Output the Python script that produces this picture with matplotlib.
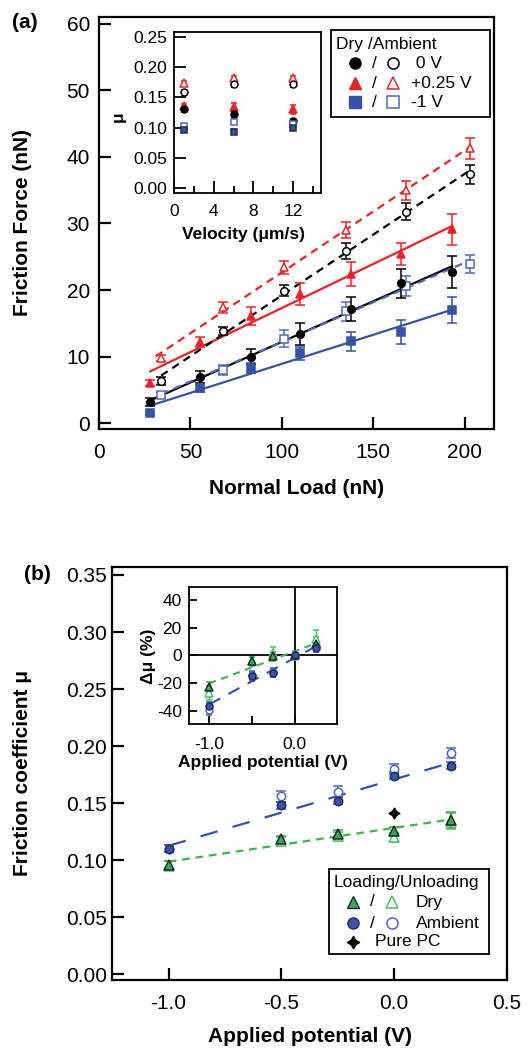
import numpy as np
import matplotlib
matplotlib.use('Agg')
import matplotlib.pyplot as plt
from matplotlib.lines import Line2D
from matplotlib.patches import Rectangle

plt.rcParams['font.family'] = ['Liberation Sans', 'DejaVu Sans']
plt.rcParams['axes.unicode_minus'] = False

# ---------------- Panel (a) data ----------------
load_dry = [28, 55, 83, 110, 138, 165, 193]
load_amb = [34, 68, 101, 135, 168, 203]
ff_dry_0V = [3.1, 6.9, 10.0, 13.4, 17.1, 21.0, 22.7]
ff_dry_0V_err = [0.6, 0.85, 1.2, 1.6, 1.8, 2.2, 2.4]
ff_dry_p025 = [6.0, 12.2, 16.1, 19.4, 22.4, 25.4, 29.1]
ff_dry_p025_err = [0.5, 0.7, 1.3, 1.7, 1.8, 1.7, 2.4]
ff_dry_m1 = [1.5, 5.3, 8.3, 10.5, 12.3, 13.7, 17.0]
ff_dry_m1_err = [0.3, 0.6, 0.75, 1.0, 1.4, 1.75, 2.0]
ff_amb_0V = [6.3, 13.8, 19.9, 25.9, 31.8, 37.4]
ff_amb_0V_err = [0.6, 0.6, 0.8, 1.2, 1.3, 1.4]
ff_amb_p025 = [9.8, 17.4, 23.4, 29.0, 35.0, 41.3]
ff_amb_p025_err = [0.5, 0.8, 1.0, 1.2, 1.4, 1.6]
ff_amb_m1 = [4.2, 8.0, 12.7, 16.8, 20.6, 23.9]
ff_amb_m1_err = [0.5, 0.75, 1.3, 1.4, 1.45, 1.4]

# inset (a): friction coefficient vs velocity
velocity = [1, 6, 12]
mu_amb_p025 = [0.174, 0.182, 0.182]
mu_amb_0V = [0.159, 0.172, 0.172]
mu_dry_p025 = [0.135, 0.134, 0.130]
mu_dry_p025_err = [0.004, 0.006, 0.007]
mu_dry_0V = [0.130, 0.122, 0.111]
mu_amb_m1 = [0.102, 0.110, 0.106]
mu_dry_m1 = [0.096, 0.093, 0.100]
mu_small_err = [0.004, 0.004, 0.004]

# ---------------- Panel (b) data ----------------
potential = [-1.0, -0.5, -0.25, 0.0, 0.25]
mu_dry_load = [0.0956, 0.1184, 0.1228, 0.1254, 0.135]
mu_dry_load_err = [0.004, 0.003, 0.004, 0.004, 0.007]
mu_dry_unload = [0.095, 0.117, 0.121, 0.120, 0.134]
mu_dry_unload_err = [0.004, 0.003, 0.004, 0.004, 0.007]
mu_amb_load = [0.110, 0.148, 0.152, 0.174, 0.183]
mu_amb_load_err = [0.003, 0.003, 0.003, 0.003, 0.003]
mu_amb_unload = [0.110, 0.156, 0.160, 0.180, 0.194]
mu_amb_unload_err = [0.003, 0.005, 0.005, 0.004, 0.004]
pure_pc_potential = [0.0]
pure_pc_mu = [0.141]

# inset (b): relative change of mu
dmu_dry_load = [-23, -4.3, -0.7, 0, 8.2]
dmu_dry_load_err = [4, 3, 3, 2, 5]
dmu_dry_unload = [-27, -4, 2, 0, 12]
dmu_dry_unload_err = [5, 3, 4, 3, 6]
dmu_amb_load = [-36.7, -15.1, -12.7, 0, 5.3]
dmu_amb_load_err = [3, 3, 3, 2, 3]
dmu_amb_unload = [-39, -14, -12, 0, 7]
dmu_amb_unload_err = [4, 3, 3, 2, 3]

# ---------------- colours ----------------
RED = '#ec2227'
BLUE_F = '#3652a3'
BLUE_O = '#5068b8'
GREEN_F = '#3aa85a'
GREEN_O = '#4cc063'
BLUE_C = '#3a55a6'
BLUE_L = '#3350b0'
GREEN_L = '#3cb54a'

W, H = 528, 1050
fig = plt.figure(figsize=(W / 100, H / 100), dpi=100)


def box(l, t, r, b):
    return [l / W, 1 - b / H, (r - l) / W, (b - t) / H]


def fx(px):
    return px / W


def fy(py):
    return 1 - py / H


def eb(ax, x, y, e, marker, color, filled=True, ms=5.5, mec=None, cap=3.5, z=3, lw=1.1):
    face = color if filled else 'white'
    ax.errorbar(x, y, yerr=e, fmt=marker, ms=ms, mfc=face, mec=mec if mec else color,
                mew=1.1, ecolor=color, elinewidth=lw, capsize=cap, capthick=lw, zorder=z)


def fitline(ax, x, y, color, ls, lw=1.6, dashes=None, z=2, x0=None, x1=None):
    p = np.polyfit(x, y, 1)
    xs = np.array([min(x) if x0 is None else x0, max(x) if x1 is None else x1])
    line, = ax.plot(xs, np.polyval(p, xs), color=color, ls=ls, lw=lw, zorder=z)
    if dashes is not None:
        line.set_dashes(dashes)


def style(ax, lw, length, size, padx, pady):
    for s in ax.spines.values():
        s.set_linewidth(lw)
    ax.tick_params(direction='in', length=length, width=lw, labelsize=size)
    ax.tick_params(axis='x', pad=padx)
    ax.tick_params(axis='y', pad=pady)


# ================= Panel (a) main =================
axa = fig.add_axes(box(99, 17, 494, 429))
fitline(axa, load_dry, ff_dry_p025, RED, '-')
fitline(axa, load_dry, ff_dry_0V, 'k', '-')
fitline(axa, load_dry, ff_dry_m1, BLUE_F, '-')
fitline(axa, load_amb, ff_amb_p025, RED, '--', dashes=(3.5, 2.5), x0=31)
fitline(axa, load_amb, ff_amb_0V, 'k', '--', dashes=(3.5, 2.5))
fitline(axa, load_amb, ff_amb_m1, BLUE_O, '--', dashes=(3.5, 2.5))

eb(axa, load_amb, ff_amb_p025, ff_amb_p025_err, '^', RED, filled=False, ms=6)
eb(axa, load_amb, ff_amb_0V, ff_amb_0V_err, 'o', 'k', filled=False)
eb(axa, load_amb, ff_amb_m1, ff_amb_m1_err, 's', BLUE_O, filled=False)
eb(axa, load_dry, ff_dry_p025, ff_dry_p025_err, '^', RED, ms=6)
eb(axa, load_dry, ff_dry_0V, ff_dry_0V_err, 'o', 'k')
eb(axa, load_dry, ff_dry_m1, ff_dry_m1_err, 's', BLUE_F)

axa.set_xlim(0, 216)
axa.set_ylim(-0.9, 61.05)
axa.set_xticks([0, 50, 100, 150, 200])
axa.set_yticks([0, 10, 20, 30, 40, 50, 60])
style(axa, 1.6, 8.5, 15, 10, 6.5)

fig.text(fx(297), fy(489), 'Normal Load (nN)', fontsize=15, fontweight='bold', ha='center', va='center')
fig.text(fx(23), fy(223), 'Friction Force (nN)', fontsize=15, fontweight='bold', ha='center',
         va='center', rotation=90)
fig.text(fx(25), fy(22), '(a)', fontsize=15, fontweight='bold', ha='center', va='center')

# ================= Inset (a) =================
axi = fig.add_axes(box(174, 32, 321, 193))
eb(axi, velocity, mu_amb_p025, mu_small_err, '^', RED, filled=False, ms=5.5, cap=2.5, lw=1.0)
eb(axi, velocity, mu_amb_0V, mu_small_err, 'o', 'k', filled=False, ms=5, cap=2.5, lw=1.0)
eb(axi, velocity, mu_dry_p025, mu_dry_p025_err, '^', RED, ms=5.5, cap=2.5, lw=1.0)
eb(axi, velocity, mu_dry_0V, mu_small_err, 'o', 'k', ms=5, cap=2.5, lw=1.0)
eb(axi, velocity, mu_amb_m1, mu_small_err, 's', BLUE_O, filled=False, ms=5, cap=2.5, lw=1.0)
eb(axi, velocity, mu_dry_m1, mu_small_err, 's', BLUE_F, ms=5, cap=2.5, lw=1.0, mec='#222a55')
axi.set_xlim(0, 14.8)
axi.set_ylim(-0.009, 0.259)
axi.set_xticks([0, 4, 8, 12])
axi.set_xticks([2, 6, 10, 14], minor=True)
axi.set_yticks([0, 0.05, 0.10, 0.15, 0.20, 0.25])
axi.set_yticklabels(['0.00', '0.05', '0.10', '0.15', '0.20', '0.25'])
style(axi, 1.3, 8.5, 12.5, 8, 5)
axi.tick_params(which='minor', direction='in', length=5, width=1.3)
fig.text(fx(243), fy(235), 'Velocity (μm/s)', fontsize=12.5, fontweight='bold', ha='center', va='center')
fig.text(fx(118), fy(117), 'μ', fontsize=12.5, fontweight='bold', ha='center', va='center', rotation=90)

# legend (a)
fig.add_artist(Rectangle((fx(331), fy(117)), (490 - 331) / W, (117 - 30) / H,
                         transform=fig.transFigure, facecolor='white', edgecolor='k', lw=1.3, zorder=5))
fig.text(fx(336), fy(44), 'Dry /Ambient', fontsize=12.5, ha='left', va='center', zorder=6)
leg_rows_a = [('o', 'k', 'k', ' 0 V', 63), ('^', RED, RED, '+0.25 V', 83), ('s', BLUE_F, BLUE_O, '-1 V', 102)]
for mk, cf, co, lab, py in leg_rows_a:
    fig.add_artist(Line2D([fx(355)], [fy(py)], marker=mk, ms=8, mfc=cf, mec=cf, ls='none',
                          transform=fig.transFigure, zorder=6))
    fig.text(fx(374), fy(py), '/', fontsize=12.5, ha='center', va='center', zorder=6)
    fig.add_artist(Line2D([fx(393)], [fy(py)], marker=mk, ms=8, mfc='white', mec=co, mew=1.1, ls='none',
                          transform=fig.transFigure, zorder=6))
    fig.text(fx(411), fy(py), lab, fontsize=12.5, ha='left', va='center', zorder=6)

# ================= Panel (b) main =================
axb = fig.add_axes(box(112, 567, 507, 980))
fitline(axb, potential, mu_amb_load, BLUE_L, '--', dashes=(8, 7))
fitline(axb, potential, mu_dry_load, GREEN_L, '--', dashes=(3.5, 2.6))
eb(axb, potential, mu_dry_unload, mu_dry_unload_err, '^', GREEN_O, filled=False, ms=6.5)
eb(axb, potential, mu_amb_unload, mu_amb_unload_err, 'o', BLUE_O, filled=False, ms=6)
eb(axb, potential, mu_dry_load, mu_dry_load_err, '^', GREEN_F, ms=6.5, mec='#1e2a1e')
eb(axb, potential, mu_amb_load, mu_amb_load_err, 'o', BLUE_C, ms=6, mec='#1c2a66')
axb.plot(pure_pc_potential, pure_pc_mu, ls='none', marker=(4, 1, 0), ms=8, color='k', zorder=4)
axb.set_xlim(-1.251, 0.5)
axb.set_ylim(-0.005, 0.357)
axb.set_xticks([-1.0, -0.5, 0.0, 0.5])
axb.set_xticklabels(['-1.0', '-0.5', '0.0', '0.5'])
axb.set_yticks([0, 0.05, 0.10, 0.15, 0.20, 0.25, 0.30, 0.35])
axb.set_yticklabels(['0.00', '0.05', '0.10', '0.15', '0.20', '0.25', '0.30', '0.35'])
style(axb, 1.6, 8.5, 15, 10, 3.6)
fig.text(fx(310), fy(1037), 'Applied potential (V)', fontsize=15, fontweight='bold', ha='center', va='center')
fig.text(fx(23), fy(773), 'Friction coefficient μ', fontsize=15, fontweight='bold', ha='center',
         va='center', rotation=90)
fig.text(fx(37), fy(575), '(b)', fontsize=15, fontweight='bold', ha='center', va='center')

# ================= Inset (b) =================
axj = fig.add_axes(box(188.7, 587.3, 337.3, 724.3))
axj.axhline(0, color='k', lw=1.3, zorder=1)
axj.axvline(0, color='k', lw=1.3, zorder=1)
fitline(axj, potential, dmu_amb_load, BLUE_L, '--', dashes=(6, 4.5), lw=1.5)
fitline(axj, potential, dmu_dry_load, GREEN_L, '--', dashes=(3.5, 2.6), lw=1.5)
eb(axj, potential, dmu_dry_unload, dmu_dry_unload_err, '^', GREEN_O, filled=False, ms=5.5, cap=2.5, lw=1.0)
eb(axj, potential, dmu_amb_unload, dmu_amb_unload_err, 'o', BLUE_O, filled=False, ms=5, cap=2.5, lw=1.0)
eb(axj, potential, dmu_dry_load, dmu_dry_load_err, '^', GREEN_F, ms=5.5, cap=2.5, lw=1.0, mec='#1e2a1e')
eb(axj, potential, dmu_amb_load, dmu_amb_load_err, 'o', BLUE_C, ms=5, cap=2.5, lw=1.0, mec='#1c2a66')
axj.set_xlim(-1.24, 0.5)
axj.set_ylim(-49.6, 49.1)
axj.set_xticks([-1.0, 0.0])
axj.set_xticklabels(['-1.0', '0.0'])
axj.set_xticks([-0.5], minor=True)
axj.set_yticks([-40, -20, 0, 20, 40])
style(axj, 1.3, 6, 12.5, 9, 5)
axj.tick_params(which='minor', direction='in', length=6, width=1.3)
fig.text(fx(263), fy(762), 'Applied potential (V)', fontsize=12.5, fontweight='bold', ha='center', va='center')
fig.text(fx(148), fy(656), 'Δμ (%)', fontsize=12.5, fontweight='bold', ha='center', va='center', rotation=90)

# legend (b)
fig.add_artist(Rectangle((fx(329), fy(954)), (489 - 329) / W, (954 - 869) / H,
                         transform=fig.transFigure, facecolor='white', edgecolor='k', lw=1.3, zorder=5))
fig.text(fx(334), fy(883), 'Loading/Unloading', fontsize=12.5, ha='left', va='center', zorder=6)
leg_rows_b = [('^', GREEN_F, '#1e2a1e', GREEN_O, 'Dry', 902), ('o', BLUE_C, '#1c2a66', BLUE_O, 'Ambient', 923)]
for mk, cf, ce, co, lab, py in leg_rows_b:
    fig.add_artist(Line2D([fx(353)], [fy(py)], marker=mk, ms=8, mfc=cf, mec=ce, ls='none',
                          transform=fig.transFigure, zorder=6))
    fig.text(fx(372), fy(py), '/', fontsize=12.5, ha='center', va='center', zorder=6)
    fig.add_artist(Line2D([fx(392)], [fy(py)], marker=mk, ms=8, mfc='white', mec=co, mew=1.1, ls='none',
                          transform=fig.transFigure, zorder=6))
    fig.text(fx(416), fy(py), lab, fontsize=12.5, ha='left', va='center', zorder=6)
fig.add_artist(Line2D([fx(353)], [fy(942)], marker=(4, 1, 0), ms=9, color='k', ls='none',
                      transform=fig.transFigure, zorder=6))
fig.text(fx(375), fy(942), 'Pure PC', fontsize=12.5, ha='left', va='center', zorder=6)

fig.savefig('out.png', dpi=100)
